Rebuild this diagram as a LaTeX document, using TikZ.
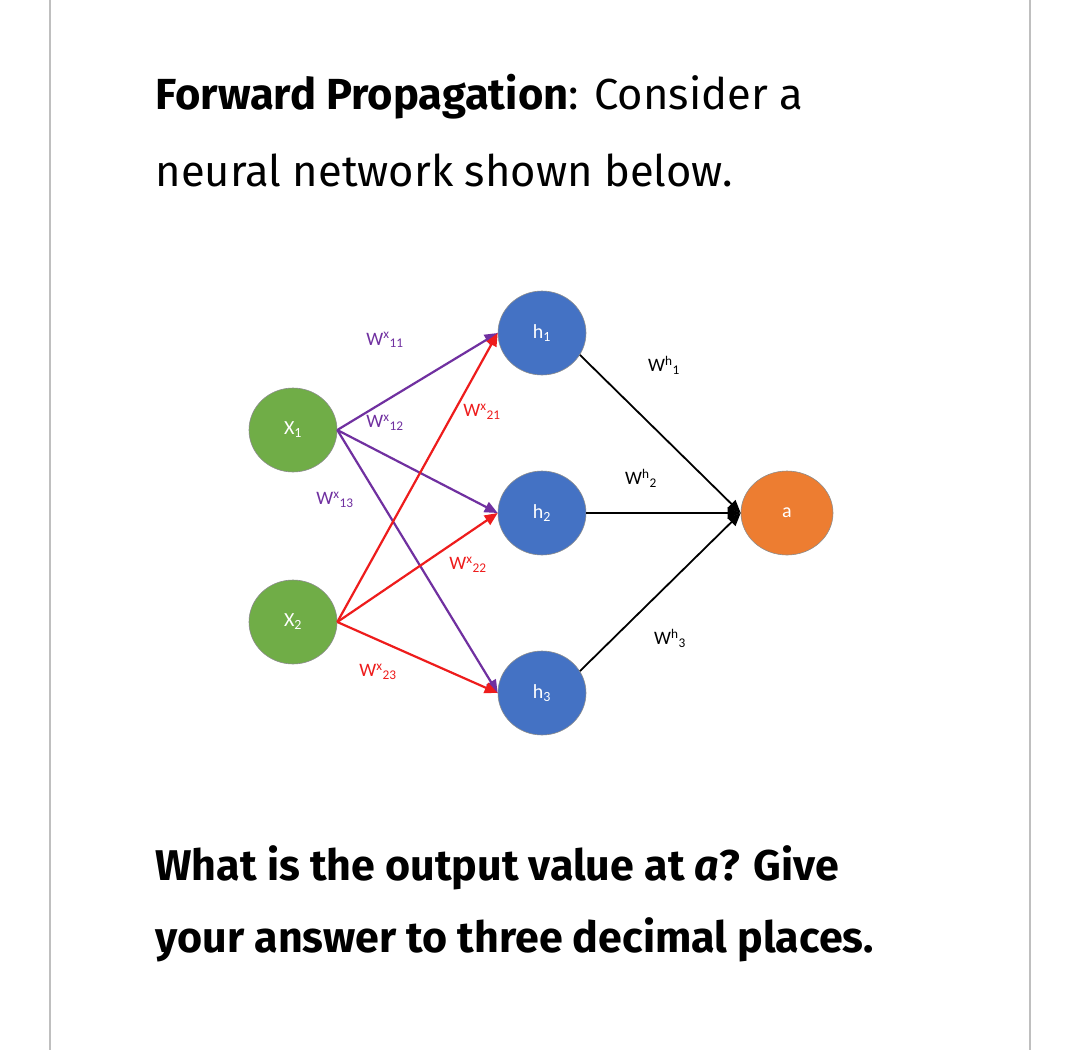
\documentclass[tikz,border=0pt]{standalone}
\usepackage{fontspec}
\setmainfont{Fira Sans}
\newfontfamily\lbl{Carlito}
\usetikzlibrary{arrows.meta,shapes.geometric}
\definecolor{gr}{HTML}{70AD47}
\definecolor{bl}{HTML}{4472C4}
\definecolor{orr}{HTML}{ED7D31}
\definecolor{pu}{HTML}{7030A0}
\definecolor{rd}{HTML}{EE1C1C}
\tikzset{
 neuron/.style={ellipse,minimum width=88pt,minimum height=84pt,inner sep=0pt,draw=black!45,line width=0.6pt,text=white,font=\lbl\fontsize{20}{20}\selectfont},
 pe/.style={draw=pu,line width=2.2pt,-{Triangle[length=13pt,width=11pt]}},
 re/.style={draw=rd,line width=2.2pt,-{Triangle[length=13pt,width=11pt]}},
 be/.style={draw=black,line width=1.8pt,-{Triangle[length=13pt,width=11pt]}},
 wl/.style={font=\lbl\fontsize{19}{19}\selectfont},
}
\begin{document}
\begin{tikzpicture}[x=1pt,y=-1pt]
\useasboundingbox (0,0) rectangle (1080,1050);
\fill[white] (0,0) rectangle (1080,1050);
\draw[black!25,line width=2pt] (50,0) -- (50,1050) (1030,0) -- (1030,1050);
\node[anchor=west,font=\fontsize{43.5}{43.5}\selectfont] (t1) at (152,97) {\textbf{Forward Propagation}: Consider a};
\node[anchor=west,font=\fontsize{43.5}{43.5}\selectfont] (t2) at (152,170) {neural network shown below.};
\node[neuron,fill=gr] (x1) at (293,430) {X\textsubscript{1}};
\node[neuron,fill=gr] (x2) at (293,622) {X\textsubscript{2}};
\node[neuron,fill=bl] (h1) at (542,333) {h\textsubscript{1}};
\node[neuron,fill=bl] (h2) at (542,513) {h\textsubscript{2}};
\node[neuron,fill=bl] (h3) at (542,693) {h\textsubscript{3}};
\node[neuron,fill=orr,minimum width=92pt] (a) at (787,513) {a};
\draw[pe] (x1.east) -- (h1.west);
\draw[pe] (x1.east) -- (h2.west);
\draw[pe] (x1.east) -- (h3.west);
\draw[re] (x2.east) -- (h1.west);
\draw[re] (x2.east) -- (h2.west);
\draw[re] (x2.east) -- (h3.west);
\draw[be] (h1.-30) -- (a.west);
\draw[be] (h2.east) -- (a.west);
\draw[be] (h3.30) -- (a.west);
\node[wl,text=pu] (l11) at (385,340) {W\textsuperscript{x}\textsubscript{11}};
\node[wl,text=pu] (l12) at (385,423) {W\textsuperscript{x}\textsubscript{12}};
\node[wl,text=pu] (l13) at (335,500) {W\textsuperscript{x}\textsubscript{13}};
\node[wl,text=rd] (l21) at (482,412) {W\textsuperscript{x}\textsubscript{21}};
\node[wl,text=rd] (l22) at (468,565) {W\textsuperscript{x}\textsubscript{22}};
\node[wl,text=rd] (l23) at (378,672) {W\textsuperscript{x}\textsubscript{23}};
\node[wl] (m1) at (664,365) {W\textsuperscript{h}\textsubscript{1}};
\node[wl] (m2) at (641,478) {W\textsuperscript{h}\textsubscript{2}};
\node[wl] (m3) at (670,638) {W\textsuperscript{h}\textsubscript{3}};
\node[anchor=west,font=\bfseries\fontsize{43}{43}\selectfont] (q1) at (152,868) {What is the output value at \textit{a}? Give};
\node[anchor=west,font=\bfseries\fontsize{43}{43}\selectfont] (q2) at (152,940) {your answer to three decimal places.};
\end{tikzpicture}
\end{document}
